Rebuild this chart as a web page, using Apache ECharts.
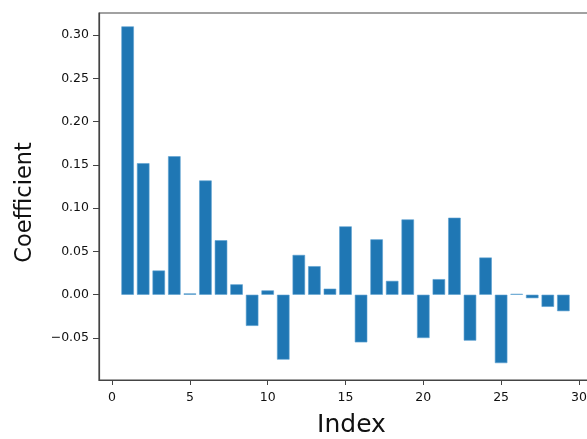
<!DOCTYPE html>
<html>
<head>
<meta charset="utf-8">
<script src="https://cdn.jsdelivr.net/npm/echarts@6/dist/echarts.min.js"></script>
<style>
  html, body { margin: 0; padding: 0; background: #fff; }
  #chart { width: 587px; height: 439px; }
</style>
</head>
<body>
<div id="chart"></div>
<script>
// coefficient per index
var indices = [1, 2, 3, 4, 5, 6, 7, 8, 9, 10, 11, 12, 13, 14, 15, 16, 17, 18, 19, 20, 21, 22, 23, 24, 25, 26, 27, 28, 29];
var coefficients = [0.310, 0.152, 0.028, 0.160, 0.0015, 0.132, 0.063, 0.012, -0.036, 0.005, -0.075, 0.046, 0.033, 0.007,
  0.079, -0.055, 0.064, 0.016, 0.087, -0.050, 0.018, 0.089, -0.053, 0.043, -0.079, 0.001, -0.004, -0.014, -0.019];
var xTicks = [0, 5, 10, 15, 20, 25, 30];
var yTicks = [-0.05, 0, 0.05, 0.10, 0.15, 0.20, 0.25, 0.30];

var chartDom = document.getElementById('chart');
var myChart = echarts.init(chartDom);

var data = [];
for (var i = 0; i < indices.length; i++) {
  data.push([indices[i], coefficients[i]]);
}

var font = 'DejaVu Sans';

var option = {
  animation: false,
  grid: {
    left: 99,
    top: 13,
    width: 493, // right spine falls just outside the picture
    bottom: 59,
    outerBoundsMode: 'none',
    containLabel: false,
    show: true,
    borderColor: '#444',
    borderWidth: 1.2,
    backgroundColor: '#fff'
  },
  xAxis: {
    type: 'value',
    min: -0.84,
    max: 30.84,
    name: 'Index',
    nameLocation: 'middle',
    nameGap: 33,
    nameTextStyle: { fontFamily: font, fontSize: 25, color: '#111', padding: [0, 0, 0, 12] },
    splitLine: { show: false },
    axisLine: { show: true, onZero: false, lineStyle: { color: '#444', width: 1.2 } },
    axisTick: { show: true, length: 5, customValues: xTicks, lineStyle: { color: '#444' } },
    axisLabel: {
      customValues: xTicks,
      margin: 11,
      fontFamily: font,
      fontSize: 12.5,
      color: '#111'
    }
  },
  yAxis: {
    type: 'value',
    min: -0.0985,
    max: 0.3255,
    name: 'Coefficient',
    nameLocation: 'middle',
    nameGap: 62,
    nameTextStyle: { fontFamily: font, fontSize: 22.5, color: '#111', padding: [0, 12, 0, 0] },
    splitLine: { show: false },
    axisLine: { show: true, onZero: false, lineStyle: { color: '#444', width: 1.2 } },
    axisTick: { show: true, length: 6, customValues: yTicks, lineStyle: { color: '#444' } },
    axisLabel: {
      customValues: yTicks,
      margin: 10,
      fontFamily: font,
      fontSize: 12.5,
      color: '#111',
      formatter: function (v) {
        var s = Math.abs(v).toFixed(2);
        return v < -1e-9 ? '\u2212' + s : s;
      }
    }
  },
  series: [
    {
      type: 'bar',
      data: data,
      barWidth: 12.5,
      itemStyle: {
        color: '#1f77b4',
        borderColor: '#5b9fd0',
        borderWidth: 0.6
      }
    }
  ]
};
option && myChart.setOption(option);
</script>
</body>
</html>
